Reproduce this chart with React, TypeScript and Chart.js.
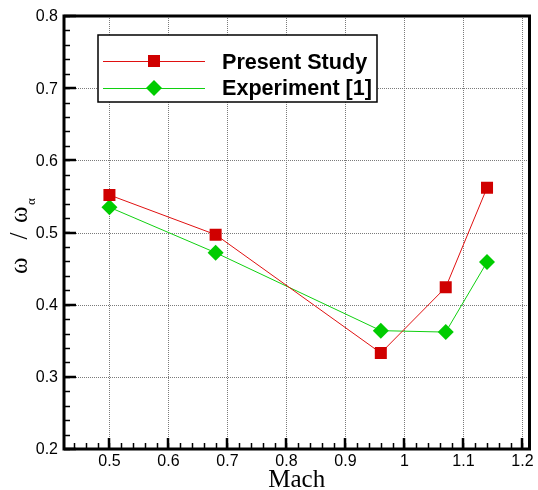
import React, { useEffect, useRef } from 'react';
import { Chart, registerables } from 'chart.js';

Chart.register(...registerables);

const machValues = [0.5, 0.68, 0.96, 1.07, 1.14];
const presentStudy = [0.552, 0.497, 0.333, 0.424, 0.562];
const experiment = [0.535, 0.472, 0.364, 0.362, 0.459];
const seriesNames = ['Present Study', 'Experiment [1]'];
const xTickValues = [0.5, 0.6, 0.7, 0.8, 0.9, 1.0, 1.1, 1.2];
const xTickLabels = ['0.5', '0.6', '0.7', '0.8', '0.9', '1', '1.1', '1.2'];
const yTickValues = [0.2, 0.3, 0.4, 0.5, 0.6, 0.7, 0.8];
const yTickLabels = ['0.2', '0.3', '0.4', '0.5', '0.6', '0.7', '0.8'];
const xTitle = 'Mach';
const yTitleParts = ['ω', '/', 'ω'];
const yTitleSub = 'α';

const X_MIN = 0.423;
const X_MAX = 1.212;
const Y_MIN = 0.2;
const Y_MAX = 0.8;
const MINOR_STEP = 0.02;

const SANS = '"Liberation Sans", Arial, Helvetica, sans-serif';
const SERIF = '"Liberation Serif", "Times New Roman", serif';

const framePlugin = {
  id: 'tecplotFrame',
  beforeDatasetsDraw(chart: any) {
    const { ctx, chartArea } = chart;
    const xs = chart.scales.x;
    const ys = chart.scales.y;
    ctx.save();
    ctx.strokeStyle = '#7a7a7a';
    ctx.lineWidth = 1;
    ctx.setLineDash([1, 1]);
    xTickValues.forEach((v) => {
      const px = Math.round(xs.getPixelForValue(v)) + 0.5;
      ctx.beginPath();
      ctx.moveTo(px, chartArea.top);
      ctx.lineTo(px, chartArea.bottom);
      ctx.stroke();
    });
    yTickValues.forEach((v) => {
      const py = Math.round(ys.getPixelForValue(v)) + 0.5;
      ctx.beginPath();
      ctx.moveTo(chartArea.left, py);
      ctx.lineTo(chartArea.right, py);
      ctx.stroke();
    });
    ctx.restore();
  },
  afterDatasetsDraw(chart: any) {
    const { ctx, chartArea } = chart;
    const xs = chart.scales.x;
    const ys = chart.scales.y;
    const { left, right, top, bottom } = chartArea;
    ctx.save();
    ctx.setLineDash([]);
    ctx.strokeStyle = '#000';
    // minor ticks
    ctx.lineWidth = 1.5;
    for (let v = 0.44; v <= X_MAX + 1e-9; v += MINOR_STEP) {
      const px = Math.round(xs.getPixelForValue(v)) + 0.5;
      ctx.beginPath();
      ctx.moveTo(px, bottom);
      ctx.lineTo(px, bottom - 6);
      ctx.stroke();
    }
    for (let v = Y_MIN; v <= Y_MAX + 1e-9; v += MINOR_STEP) {
      const py = Math.round(ys.getPixelForValue(v)) + 0.5;
      ctx.beginPath();
      ctx.moveTo(left, py);
      ctx.lineTo(left + 6, py);
      ctx.stroke();
    }
    // major ticks
    ctx.lineWidth = 2.5;
    xTickValues.forEach((v) => {
      const px = Math.round(xs.getPixelForValue(v));
      ctx.beginPath();
      ctx.moveTo(px, bottom);
      ctx.lineTo(px, bottom - 11);
      ctx.stroke();
    });
    yTickValues.forEach((v) => {
      const py = Math.round(ys.getPixelForValue(v));
      ctx.beginPath();
      ctx.moveTo(left, py);
      ctx.lineTo(left + 12, py);
      ctx.stroke();
    });
    // frame
    ctx.lineWidth = 3;
    ctx.strokeRect(left, top, right - left, bottom - top);

    // tick labels
    ctx.fillStyle = '#000';
    ctx.font = '16px ' + SANS;
    ctx.textAlign = 'center';
    ctx.textBaseline = 'alphabetic';
    xTickValues.forEach((v, i) => {
      ctx.fillText(xTickLabels[i], xs.getPixelForValue(v), bottom + 17);
    });
    ctx.textAlign = 'right';
    ctx.textBaseline = 'middle';
    yTickValues.forEach((v, i) => {
      ctx.fillText(yTickLabels[i], left - 6, ys.getPixelForValue(v) + 1);
    });

    // x title
    ctx.font = '25px ' + SERIF;
    ctx.textAlign = 'center';
    ctx.textBaseline = 'alphabetic';
    ctx.fillText(xTitle, (left + right) / 2, bottom + 38);

    // y title (rotated, with subscript)
    ctx.save();
    ctx.translate(27, 273);
    ctx.rotate(-Math.PI / 2);
    ctx.textBaseline = 'alphabetic';
    ctx.font = '25px ' + SERIF;
    ctx.textAlign = 'left';
    ctx.fillText(yTitleParts[0], -1, 0);
    ctx.textAlign = 'center';
    ctx.fillText(yTitleParts[1], 37, 0);
    ctx.textAlign = 'left';
    ctx.fillText(yTitleParts[2], 50, 0);
    ctx.font = '13px ' + SERIF;
    ctx.fillText(yTitleSub, 68, 8);
    ctx.restore();

    // legend
    const lx = 98, ly = 35, lw = 279, lh = 67;
    ctx.fillStyle = '#fff';
    ctx.fillRect(lx, ly, lw, lh);
    ctx.lineWidth = 1.5;
    ctx.strokeStyle = '#000';
    ctx.strokeRect(lx, ly, lw, lh);
    const rows = [61, 88];
    const baselines = [68.5, 94.5];
    chart.data.datasets.forEach((ds: any, i: number) => {
      const y = rows[i];
      ctx.strokeStyle = ds.borderColor;
      ctx.lineWidth = 1;
      ctx.beginPath();
      ctx.moveTo(103, y + 0.5);
      ctx.lineTo(205, y + 0.5);
      ctx.stroke();
      ctx.fillStyle = ds.pointBackgroundColor;
      if (ds.pointStyle === 'rect') {
        ctx.fillRect(148, y - 6, 12, 12);
      } else {
        ctx.beginPath();
        ctx.moveTo(154, y - 8);
        ctx.lineTo(162, y);
        ctx.lineTo(154, y + 8);
        ctx.lineTo(146, y);
        ctx.closePath();
        ctx.fill();
      }
      ctx.fillStyle = '#000';
      ctx.font = 'bold 21.6px ' + SANS;
      ctx.textAlign = 'left';
      ctx.textBaseline = 'alphabetic';
      ctx.fillText(ds.label, 222, baselines[i]);
    });
    ctx.restore();
  },
};

export default function App() {
  const canvasRef = useRef<HTMLCanvasElement>(null);

  useEffect(() => {
    if (!canvasRef.current) return;
    const chart = new Chart(canvasRef.current, {
      type: 'scatter',
      data: {
        datasets: [
          {
            label: seriesNames[0],
            data: machValues.map((x, i) => ({ x, y: presentStudy[i] })),
            showLine: true,
            borderColor: '#e01010',
            borderWidth: 1,
            pointStyle: 'rect',
            pointRadius: 8.5,
            pointHoverRadius: 8.5,
            pointBackgroundColor: '#d00000',
            pointBorderWidth: 0,
          },
          {
            label: seriesNames[1],
            data: machValues.map((x, i) => ({ x, y: experiment[i] })),
            showLine: true,
            borderColor: '#10d010',
            borderWidth: 1,
            pointStyle: 'rectRot',
            pointRadius: 8,
            pointHoverRadius: 8,
            pointBackgroundColor: '#00cc00',
            pointBorderWidth: 0,
          },
        ],
      } as any,
      options: {
        responsive: false,
        devicePixelRatio: 1,
        animation: false,
        layout: { padding: { left: 64, top: 16, right: 2, bottom: 41 } },
        plugins: {
          legend: { display: false },
          tooltip: { enabled: false },
        },
        scales: {
          x: { type: 'linear', min: X_MIN, max: X_MAX, display: false },
          y: { type: 'linear', min: Y_MIN, max: Y_MAX, display: false },
        },
      } as any,
      plugins: [framePlugin],
    });
    return () => chart.destroy();
  }, []);

  return (
    <div style={{ position: 'absolute', left: 0, top: 0, width: 538, height: 490, background: '#fff' }}>
      <canvas ref={canvasRef} width={538} height={490} style={{ width: 538, height: 490 }} />
    </div>
  );
}
